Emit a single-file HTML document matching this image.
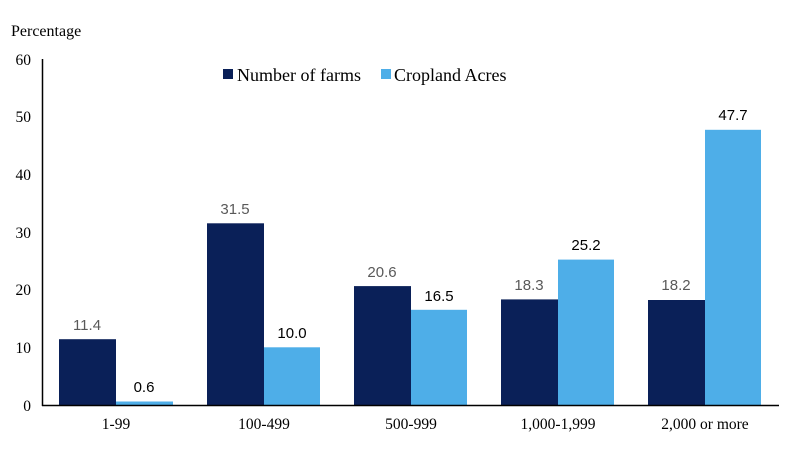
<!DOCTYPE html>
<html><head><style>body{margin:0;background:#fff}</style></head><body>
<svg width="800" height="454" xmlns="http://www.w3.org/2000/svg" font-family="Liberation Serif, serif">
<text x="11" y="36" font-size="16" fill="#000">Percentage</text>
<g font-size="15.5" fill="#000" text-anchor="end">
<text x="31" y="411">0</text>
<text x="31" y="353">10</text>
<text x="31" y="295">20</text>
<text x="31" y="238">30</text>
<text x="31" y="180">40</text>
<text x="31" y="122">50</text>
<text x="31" y="65">60</text>
</g>
<rect x="223" y="69" width="10" height="10" fill="#0a2058"/>
<text x="237" y="81" font-size="18">Number of farms</text>
<rect x="381" y="69" width="10" height="10" fill="#4eaee8"/>
<text x="394" y="81" font-size="18">Cropland Acres</text>
<g fill="#0a2058">
<rect x="59" y="339.2" width="57" height="65.8"/>
<rect x="207" y="223.3" width="57" height="181.7"/>
<rect x="354" y="286.1" width="57" height="118.9"/>
<rect x="501" y="299.4" width="57" height="105.6"/>
<rect x="648" y="300" width="57" height="105"/>
</g>
<g fill="#4eaee8">
<rect x="116" y="401.5" width="57" height="3.5"/>
<rect x="264" y="347.3" width="56" height="57.7"/>
<rect x="411" y="309.8" width="56" height="95.2"/>
<rect x="558" y="259.6" width="56" height="145.4"/>
<rect x="705" y="129.8" width="56" height="275.2"/>
</g>
<g font-family="Liberation Sans, sans-serif" font-size="15" text-anchor="middle">
<g fill="#595959">
<text x="87" y="330">11.4</text>
<text x="235" y="214">31.5</text>
<text x="382" y="277">20.6</text>
<text x="529" y="290">18.3</text>
<text x="676" y="290">18.2</text>
</g>
<g fill="#000">
<text x="144" y="392">0.6</text>
<text x="292" y="338">10.0</text>
<text x="439" y="301">16.5</text>
<text x="586" y="250">25.2</text>
<text x="733" y="120">47.7</text>
</g>
</g>
<line x1="42.5" y1="59" x2="42.5" y2="406" stroke="#000" stroke-width="1.5"/>
<line x1="42" y1="405.5" x2="779" y2="405.5" stroke="#000" stroke-width="1.5"/>
<g font-size="15.5" text-anchor="middle" fill="#000">
<text x="116" y="429">1-99</text>
<text x="264" y="429">100-499</text>
<text x="411" y="429">500-999</text>
<text x="558" y="429">1,000-1,999</text>
<text x="705" y="429">2,000 or more</text>
</g>
</svg>
</body></html>
